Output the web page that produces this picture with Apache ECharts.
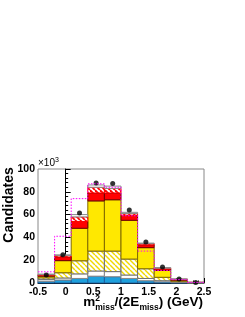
<!DOCTYPE html>
<html><head><meta charset="utf-8">
<script src="https://cdn.jsdelivr.net/npm/echarts@6/dist/echarts.min.js"></script>
<style>html,body{margin:0;padding:0;background:#fff}#c{width:245px;height:317px}</style>
</head><body><div id="c"></div>
<script>
// bin edges (GeV)
var binEdges = [-0.5, -0.2, 0.1, 0.4, 0.7, 1.0, 1.3, 1.6, 1.9, 2.2, 2.5];
// cumulative stacked tops (x10^3 candidates), bottom to top
var blueTop    = [1.5, 2.6, 4.0, 6.0, 5.5, 4.0, 2.0, 1.0, 0.3, 0.1];
var whiteTop   = [3.0, 4.4, 8.0, 10.5, 10.0, 7.0, 4.0, 2.0, 0.8, 0.2];
var hatchYTop  = [4.5, 9.0, 19.5, 28.0, 28.0, 21.0, 12.5, 5.0, 1.5, 0.3];
var yellowTop  = [6.0, 19.6, 48.0, 72.0, 73.0, 55.0, 31.0, 11.0, 2.5, 0.4];
var redTop     = [6.8, 22.8, 54.0, 79.0, 79.0, 59.5, 33.5, 12.5, 3.0, 0.5];
var hatchRTop  = [7.3, 24.0, 58.0, 84.0, 83.0, 61.0, 34.5, 13.0, 3.3, 0.55];
var totalTop   = [7.8, 24.7, 60.0, 86.0, 85.0, 62.0, 35.0, 13.5, 3.6, 0.6];
var altModel   = [9.8, 41.0, 74.0, 87.0, 84.0, 59.0, 28.0, 11.0, 3.0, 0.5];
var dataPoints = [7.0, 24.8, 61.5, 87.8, 87.2, 64.0, 36.0, 14.0, 3.5, 0.5];
var xTicks = [-0.5, 0, 0.5, 1, 1.5, 2, 2.5];
var yTicks = [0, 20, 40, 60, 80, 100];

function hatch(color, bg, w) {
  var s = 5, c = document.createElement('canvas');
  c.width = s; c.height = s;
  var g = c.getContext('2d');
  g.fillStyle = bg; g.fillRect(0, 0, s, s);
  g.strokeStyle = color; g.lineWidth = w;
  for (var k = -1; k <= 1; k++) {
    g.beginPath(); g.moveTo(k * s, 0); g.lineTo(k * s + s, s); g.stroke();
  }
  return {image: c, repeat: 'repeat'};
}

function layerSeries(base, top, fill, stroke) {
  var d = [];
  for (var i = 0; i < top.length; i++) {
    d.push([binEdges[i], binEdges[i + 1], base ? base[i] : 0, top[i]]);
  }
  return {
    type: 'custom', data: d, encode: {x: [0, 1], y: [2, 3]}, silent: true,
    renderItem: function (params, api) {
      var p1 = api.coord([api.value(0), api.value(3)]);
      var p2 = api.coord([api.value(1), api.value(2)]);
      return {type: 'rect', shape: {x: p1[0], y: p1[1], width: p2[0] - p1[0], height: p2[1] - p1[1]},
        style: {fill: fill, stroke: stroke, lineWidth: 1}};
    }
  };
}

var stepData = [];
for (var i = 0; i < altModel.length; i++) stepData.push([binEdges[i], altModel[i]]);
stepData.push([binEdges[binEdges.length - 1], altModel[altModel.length - 1]]);
var pts = [];
for (var i = 0; i < dataPoints.length; i++) pts.push([(binEdges[i] + binEdges[i + 1]) / 2, dataPoints[i]]);

var FONT = 'Liberation Sans, Arial, sans-serif';
var chart = echarts.init(document.getElementById('c'));

var mc = document.createElement('canvas').getContext('2d');
function tw(t, size) { mc.font = 'bold ' + size + 'px Liberation Sans'; return mc.measureText(t).width; }
function txt(t, x, baseline, size, weight, align) {
  return {type: 'text', x: x, y: baseline - 0.35 * size,
    style: {text: t, font: (weight || 'bold') + ' ' + size + 'px ' + FONT, fill: '#000', verticalAlign: 'middle', align: align || 'left'}};
}
var MS = 13.5, SS = 8.5, right = 203, base = 307;
var pieces = [['m', 'main'], ['miss', 'sub'], ['/(2E', 'main'], ['miss', 'sub'], [') (GeV)', 'main']];
var total = 0;
pieces.forEach(function (p) { total += tw(p[0], p[1] === 'main' ? MS : SS); });
var x = right - total, gr = [];
pieces.forEach(function (p, idx) {
  var sz = p[1] === 'main' ? MS : SS;
  gr.push(txt(p[0], x, p[1] === 'main' ? base : base + 4, sz));
  if (idx === 1) gr.push(txt('2', x, base - 5, SS));
  x += tw(p[0], sz);
});
gr.push({type: 'text', x: 9, y: 205, rotation: Math.PI / 2,
  style: {text: 'Candidates', font: 'bold 14px ' + FONT, fill: '#000', align: 'center', verticalAlign: 'middle'}});
gr.push(txt('×10', 38, 167, 10, 'normal'));
gr.push(txt('3', 55, 163, 7, 'normal'));

chart.setOption({
  animation: false,
  grid: {left: 38, right: 41, top: 169, bottom: 34, show: true, borderColor: '#888', borderWidth: 1, backgroundColor: 'transparent'},
  xAxis: {type: 'value', min: xTicks[0], max: xTicks[xTicks.length - 1], interval: 0.5,
    axisLine: {lineStyle: {color: '#000', width: 1}},
    axisTick: {inside: true, length: 5, lineStyle: {color: '#000'}},
    minorTick: {show: true, splitNumber: 5, length: 2.5, lineStyle: {color: '#000'}},
    splitLine: {show: false},
    axisLabel: {showMinLabel: true, showMaxLabel: true, margin: 4, color: '#000', fontWeight: 'bold', fontSize: 10.5, fontFamily: FONT}},
  yAxis: {type: 'value', min: yTicks[0], max: yTicks[yTicks.length - 1], interval: 20,
    axisLine: {show: true, lineStyle: {color: '#000', width: 1}},
    axisTick: {show: true, inside: true, length: 5, lineStyle: {color: '#000'}},
    minorTick: {show: true, splitNumber: 5, length: 2.5, lineStyle: {color: '#000'}},
    splitLine: {show: false},
    axisLabel: {margin: 3, color: '#000', fontWeight: 'bold', fontSize: 10.5, fontFamily: FONT}},
  graphic: gr,
  series: [
    layerSeries(null, blueTop, '#1ea0dc', '#2060a0'),
    layerSeries(blueTop, whiteTop, '#ffffff', '#888888'),
    layerSeries(whiteTop, hatchYTop, hatch('#f0d800', '#ffffff', 1.4), '#707070'),
    layerSeries(hatchYTop, yellowTop, '#ffe800', '#806a00'),
    layerSeries(yellowTop, redTop, '#ff0000', '#700000'),
    layerSeries(redTop, hatchRTop, hatch('#ff0000', '#ffffff', 1.8), '#ff0000'),
    layerSeries(hatchRTop, totalTop, '#ffffff', '#888888'),
    {type: 'line', data: stepData, step: 'end', symbol: 'none', silent: true,
      lineStyle: {color: '#ff00ff', width: 1, type: [1.5, 1.5]}},
    {type: 'scatter', data: pts, symbol: 'circle', symbolSize: 5, silent: true,
      itemStyle: {color: '#000'}}
  ]
});
</script></body></html>
